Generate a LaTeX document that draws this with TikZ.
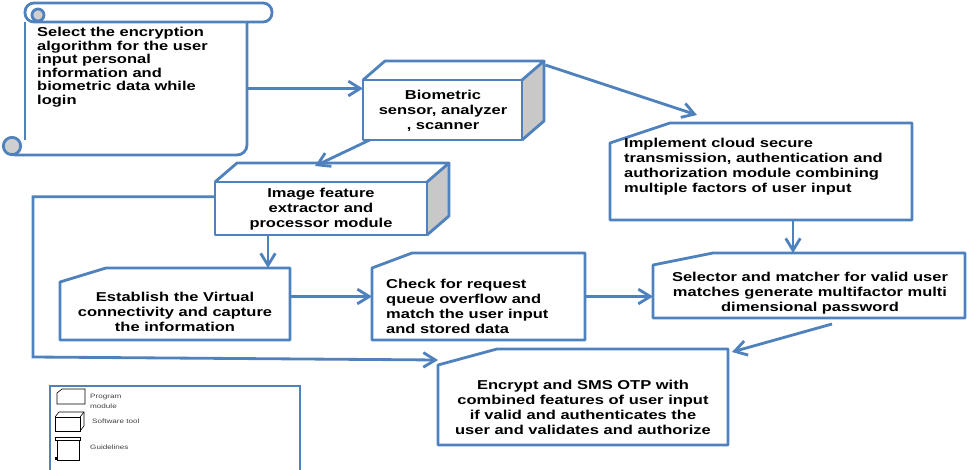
\documentclass[tikz,border=0pt]{standalone}
\usepackage{fontspec}
\setmainfont{Liberation Sans}[FakeStretch=1.28]
\usetikzlibrary{arrows.meta}
\definecolor{edge}{HTML}{4F81BD}
\definecolor{side}{HTML}{C8C8C8}
\definecolor{curl}{HTML}{CFCFCF}
\tikzset{
  frame/.style={draw=edge, line width=2.4pt, line join=round},
  slot/.style={inner sep=0pt, outer sep=0pt},
  txt/.style={font=\bfseries\fontsize{11}{12.8}\selectfont, inner sep=0pt, align=center},
  arrow/.style={-{Straight Barb[length=3.6mm,width=4.4mm]}, draw=edge, line width=2.4pt},
  keybox/.style={draw=edge, line width=1.4pt},
  keyline/.style={draw=black, line width=0.5pt},
  keytxt/.style={font=\fontsize{5.4}{8.5}\selectfont, text=black!75, inner sep=0pt, align=left}
}
% program module: box with the top left corner cut off
\newcommand\progframe[3]{%
  \draw[frame] ([xshift=#2]#1.north west) -- (#1.north east) -- (#1.south east)
    -- (#1.south west) -- ([yshift=-#3]#1.north west) -- cycle;}
% software tool: box drawn as a cube
\newcommand\cubeframe[1]{%
  \fill[side] (#1.north east) -- ++(0.66cm,0.57cm) -- ([shift={(0.66cm,0.57cm)}]#1.south east)
    -- (#1.south east) -- cycle;
  \draw[frame] (#1.south west) rectangle (#1.north east);
  \draw[frame] (#1.north west) -- ++(0.66cm,0.57cm) -- ([shift={(0.66cm,0.57cm)}]#1.north east)
    -- (#1.north east);
  \draw[frame] ([shift={(0.66cm,0.57cm)}]#1.north east) -- ([shift={(0.66cm,0.57cm)}]#1.south east)
    -- (#1.south east);}

\begin{document}
\begin{tikzpicture}[x=0.03cm,y=-0.03cm]
  \useasboundingbox (0,0) rectangle (967,470);

  % Guidelines: the scroll
  \draw[frame, rounded corners=0.27cm] (25,3) rectangle (272,22);
  \filldraw[frame, fill=curl] (38,15) circle[radius=0.18cm];
  \draw[frame] (25,22) -- (25,140);
  \draw[frame, rounded corners=0.3cm] (247,22) -- (247,155) -- (14,155);
  \filldraw[frame, fill=curl] (12,146) circle[radius=0.26cm];
  \node[slot, minimum width=6.66cm, minimum height=3.99cm] (login) at (136,88.5) {};
  \node[txt, align=left, anchor=north west, font=\bfseries\fontsize{11}{11.6}\selectfont] (login-t) at (37,27)
    {Select the encryption\\algorithm for the user\\input personal\\information and\\biometric data while\\login};

  % Software tools
  \node[slot, minimum width=4.77cm, minimum height=1.8cm] (sensor) at (442.5,110) {};
  \cubeframe{sensor}
  \node[txt] (sensor-t) at (443,111) {Biometric\\sensor, analyzer\\, scanner};

  \node[slot, minimum width=6.36cm, minimum height=1.59cm] (feature) at (321,208.5) {};
  \cubeframe{feature}
  \node[txt] (feature-t) at (321,209) {Image feature\\extractor and\\processor module};

  % Program modules
  \node[slot, minimum width=9.06cm, minimum height=2.91cm] (cloud) at (761,171.5) {};
  \progframe{cloud}{1.8cm}{0.6cm}
  \node[txt, align=left, anchor=north west] (cloud-t) at (624,138)
    {Implement cloud secure\\transmission, authentication and\\authorization module combining\\multiple factors of user input};

  \node[slot, minimum width=6.9cm, minimum height=2.16cm] (establish) at (175,304) {};
  \progframe{establish}{1.38cm}{0.42cm}
  \node[txt] (establish-t) at (175,312) {Establish the Virtual\\connectivity and capture\\the information};

  \node[slot, minimum width=6.39cm, minimum height=2.61cm] (check) at (478.5,296.5) {};
  \progframe{check}{1.2cm}{0.45cm}
  \node[txt, align=left, anchor=north west] (check-t) at (386,279)
    {Check for request\\queue overflow and\\match the user input\\and stored data};

  \node[slot, minimum width=9.36cm, minimum height=1.95cm] (selector) at (809,285.5) {};
  \progframe{selector}{1.8cm}{0.36cm}
  \node[txt] (selector-t) at (810,293) {Selector and matcher for valid user\\matches generate multifactor multi\\dimensional password};

  \node[slot, minimum width=8.7cm, minimum height=2.88cm] (encrypt) at (583,397) {};
  \progframe{encrypt}{1.77cm}{0.48cm}
  \node[txt] (encrypt-t) at (583,407) {Encrypt and SMS OTP with\\combined features of user input\\if valid and authenticates the\\user and validates and authorize};

  % connectors
  \draw[arrow] (login.east) -- (login.east -| sensor.west);
  \draw[arrow] ([shift={(0.7cm,0.45cm)}]sensor.north east) -- ([shift={(-64,-8)}]cloud.north);
  \draw[arrow] ([xshift=0.2cm]sensor.south west) -- ([shift={(-6,-16)}]feature.north);
  \draw[arrow] ([xshift=-1.59cm]feature.south) -- ([xshift=-1.59cm]feature.south |- establish.north);
  \draw[arrow] ([yshift=0.35cm]feature.west) -| (33,357) -- ([yshift=-0.33cm]encrypt.north west);
  \draw[arrow] (establish.east |- check.west) -- (check.west);
  \draw[arrow] (check.east) -- (check.east -| selector.west);
  \draw[arrow] ([xshift=0.96cm]cloud.south) -- ([xshift=0.96cm]cloud.south |- selector.north);
  \draw[arrow] ([shift={(23,6)}]selector.south) -- ([shift={(4,3)}]encrypt.north east);

  % legend
  \draw[keybox] (50,470) -- (50,386) -- (300,386) -- (300,470);
  \draw[keyline] (62,389) -- (85,389) -- (85,404) -- (57,404) -- (57,393) -- cycle;
  \draw[keyline] (55,417) rectangle (80,431);
  \draw[keyline] (55,417) -- (59,412) -- (84,412) -- (84,426) -- (80,431);
  \draw[keyline] (80,417) -- (84,412);
  \draw[keyline] (55,437) rectangle (80,440);
  \draw[keyline] (57,440) -- (57,460) -- (79,460) -- (79,440);
  \fill[black] (55,457) rectangle (58,460);
  \node[keytxt, anchor=west] (key-prog) at (90,401) {Program\\module};
  \node[keytxt, anchor=west] (key-tool) at (92,421) {Software tool};
  \node[keytxt, anchor=west] (key-guide) at (90,447) {Guidelines};
\end{tikzpicture}
\end{document}
